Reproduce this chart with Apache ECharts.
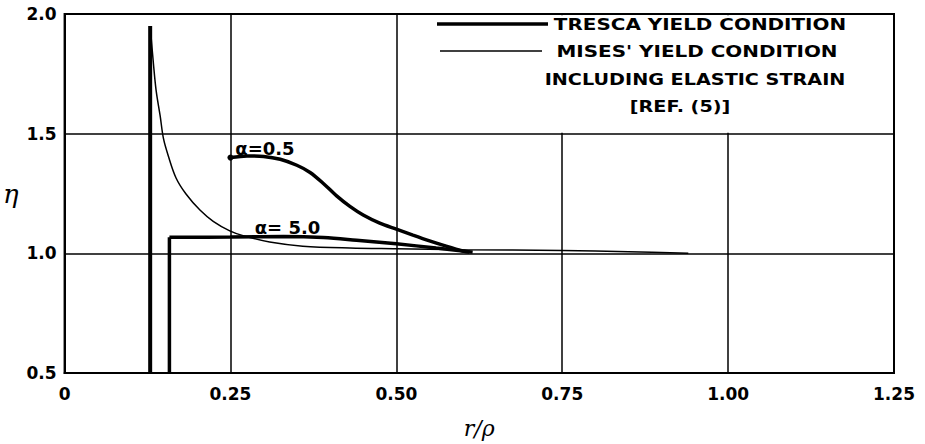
<!DOCTYPE html>
<html>
<head>
<meta charset="utf-8">
<script src="https://cdn.jsdelivr.net/npm/echarts@6/dist/echarts.min.js"></script>
<style>html,body{margin:0;padding:0;background:#fff;}#c{width:925px;height:444px;}</style>
</head>
<body>
<div id="c"></div>
<script>
// ---- data ----
const xTickLabels = ['0', '0.25', '0.50', '0.75', '1.00', '1.25'];
const yTickLabels = ['0.5', '1.0', '1.5', '2.0'];

// Tresca, thick vertical near the axis
const rSpike = [0.129, 0.129];
const etaSpike = [0.5, 1.95];

// Tresca alpha = 0.5
const r05 = [0.25, 0.275, 0.30, 0.325, 0.35, 0.37, 0.39, 0.41, 0.43, 0.45, 0.475, 0.50, 0.525, 0.55, 0.575, 0.60, 0.61];
const eta05 = [1.400, 1.407, 1.405, 1.393, 1.368, 1.338, 1.292, 1.240, 1.196, 1.160, 1.126, 1.101, 1.076, 1.052, 1.030, 1.010, 1.005];

// Tresca alpha = 5.0
const r50Vert = [0.158, 0.158];
const eta50Vert = [0.5, 1.067];
const r50 = [0.158, 0.25, 0.33, 0.39, 0.44, 0.50, 0.56, 0.60, 0.615];
const eta50 = [1.067, 1.068, 1.07, 1.066, 1.055, 1.04, 1.022, 1.01, 1.005];

// Mises incl. elastic strain
const rM = [0.129, 0.134, 0.138, 0.144, 0.149, 0.156, 0.168, 0.183, 0.204, 0.224, 0.249, 0.269, 0.309, 0.359, 0.43, 0.50, 0.60, 0.75, 0.85, 0.94];
const etaM = [1.95, 1.79, 1.68, 1.575, 1.48, 1.41, 1.315, 1.248, 1.181, 1.134, 1.094, 1.074, 1.047, 1.03, 1.022, 1.019, 1.015, 1.012, 1.007, 1.0];

// curve annotations
const annotR = [0.302, 0.336];
const annotEta = [1.44, 1.11];
const annotText = ['α=0.5', 'α= 5.0'];

// legend texts
const legendTresca = 'TRESCA YIELD CONDITION';
const legendMises = ["MISES' YIELD CONDITION", 'INCLUDING ELASTIC STRAIN', '[REF. (5)]'];

const zip = (a, b) => a.map((v, i) => [v, b[i]]);

const FONT = '"DejaVu Sans", sans-serif';
const chart = echarts.init(document.getElementById('c'), null, { renderer: 'svg' });

const lineStyleThick = { color: '#000', width: 3.5 };
const lineStyleThin = { color: '#000', width: 1.5 };

const xVals = [0, 0.25, 0.5, 0.75, 1.0, 1.25];
const yVals = [0.5, 1.0, 1.5, 2.0];

const legendText = (x, y, sx, size, text) => ({
  type: 'text', x: x, y: y, scaleX: sx, z: 100,
  style: { text: text, font: 'bold ' + size + 'px ' + FONT, fill: '#000', textAlign: 'center', textVerticalAlign: 'middle', align: 'center', verticalAlign: 'middle' }
});

chart.setOption({
  animation: false,
  backgroundColor: '#fff',
  grid: { left: 61, right: 31, top: 14, bottom: 57, show: true, borderColor: '#000', borderWidth: 2, backgroundColor: 'transparent' },
  xAxis: {
    type: 'value', min: 0, max: 1.25, interval: 0.25,
    axisLine: { show: true, lineStyle: { color: '#000', width: 2 } },
    axisTick: { show: false },
    splitLine: { show: true, lineStyle: { color: '#000', width: 1.5 } },
    axisLabel: {
      color: '#000', fontFamily: FONT, fontWeight: 'bold', fontSize: 17, margin: 12,
      formatter: v => xTickLabels[xVals.findIndex(t => Math.abs(t - v) < 1e-6)]
    },
    name: 'r/ρ', nameLocation: 'middle', nameGap: 44,
    nameTextStyle: { color: '#000', fontFamily: '"DejaVu Serif", serif', fontStyle: 'italic', fontSize: 22 }
  },
  yAxis: {
    type: 'value', min: 0.5, max: 2.0, interval: 0.5,
    axisLine: { show: true, lineStyle: { color: '#000', width: 2 } },
    axisTick: { show: false },
    splitLine: { show: true, lineStyle: { color: '#000', width: 1.5 } },
    axisLabel: {
      color: '#000', fontFamily: FONT, fontWeight: 'bold', fontSize: 17, margin: 8,
      formatter: v => yTickLabels[yVals.findIndex(t => Math.abs(t - v) < 1e-6)]
    },
    name: 'η', nameLocation: 'middle', nameGap: 46, nameRotate: 0,
    nameTextStyle: { color: '#000', fontFamily: '"DejaVu Serif", serif', fontStyle: 'italic', fontSize: 26 }
  },
  series: [
    {
      type: 'line', data: [], z: 1, silent: true,
      markArea: {
        silent: true,
        itemStyle: { color: '#fff', opacity: 1 },
        data: [[{ coord: [0.52, 1.504] }, { coord: [1.246, 1.995] }]]
      }
    },
    { type: 'line', data: zip(rM, etaM), smooth: 0.35, symbol: 'none', lineStyle: lineStyleThin, z: 3 },
    { type: 'line', data: zip(rSpike, etaSpike), symbol: 'none', lineStyle: { color: '#000', width: 4 }, z: 4 },
    { type: 'line', data: zip(r05, eta05), smooth: 0.3, symbol: 'none', lineStyle: lineStyleThick, z: 4 },
    { type: 'scatter', data: [[r05[0], eta05[0]]], symbol: 'circle', symbolSize: 6, itemStyle: { color: '#000', opacity: 1 }, z: 5 },
    { type: 'line', data: zip(r50Vert, eta50Vert), symbol: 'none', lineStyle: lineStyleThick, z: 4 },
    { type: 'line', data: zip(r50, eta50), smooth: 0.35, symbol: 'none', lineStyle: lineStyleThick, z: 4 },
    {
      type: 'scatter', data: annotR.map((r, i) => ({ value: [r, annotEta[i]], name: annotText[i] })),
      symbolSize: 0, z: 6, itemStyle: { opacity: 1 },
      label: { show: true, position: 'inside', formatter: p => p.name, color: '#000', fontFamily: FONT, fontWeight: 'bold', fontSize: 18 }
    }
  ],
  graphic: [
    { type: 'line', z: 100, shape: { x1: 437, y1: 24, x2: 548, y2: 24 }, style: { stroke: '#000', lineWidth: 3.5 } },
    { type: 'line', z: 100, shape: { x1: 440, y1: 51, x2: 542, y2: 51 }, style: { stroke: '#000', lineWidth: 1.5 } },
    legendText(700, 25, 1.33, 15, legendTresca),
    legendText(697, 52, 1.33, 15, legendMises[0]),
    legendText(695, 80, 1.28, 15, legendMises[1]),
    legendText(680, 107, 1.2, 16, legendMises[2])
  ]
});
</script>
</body>
</html>
